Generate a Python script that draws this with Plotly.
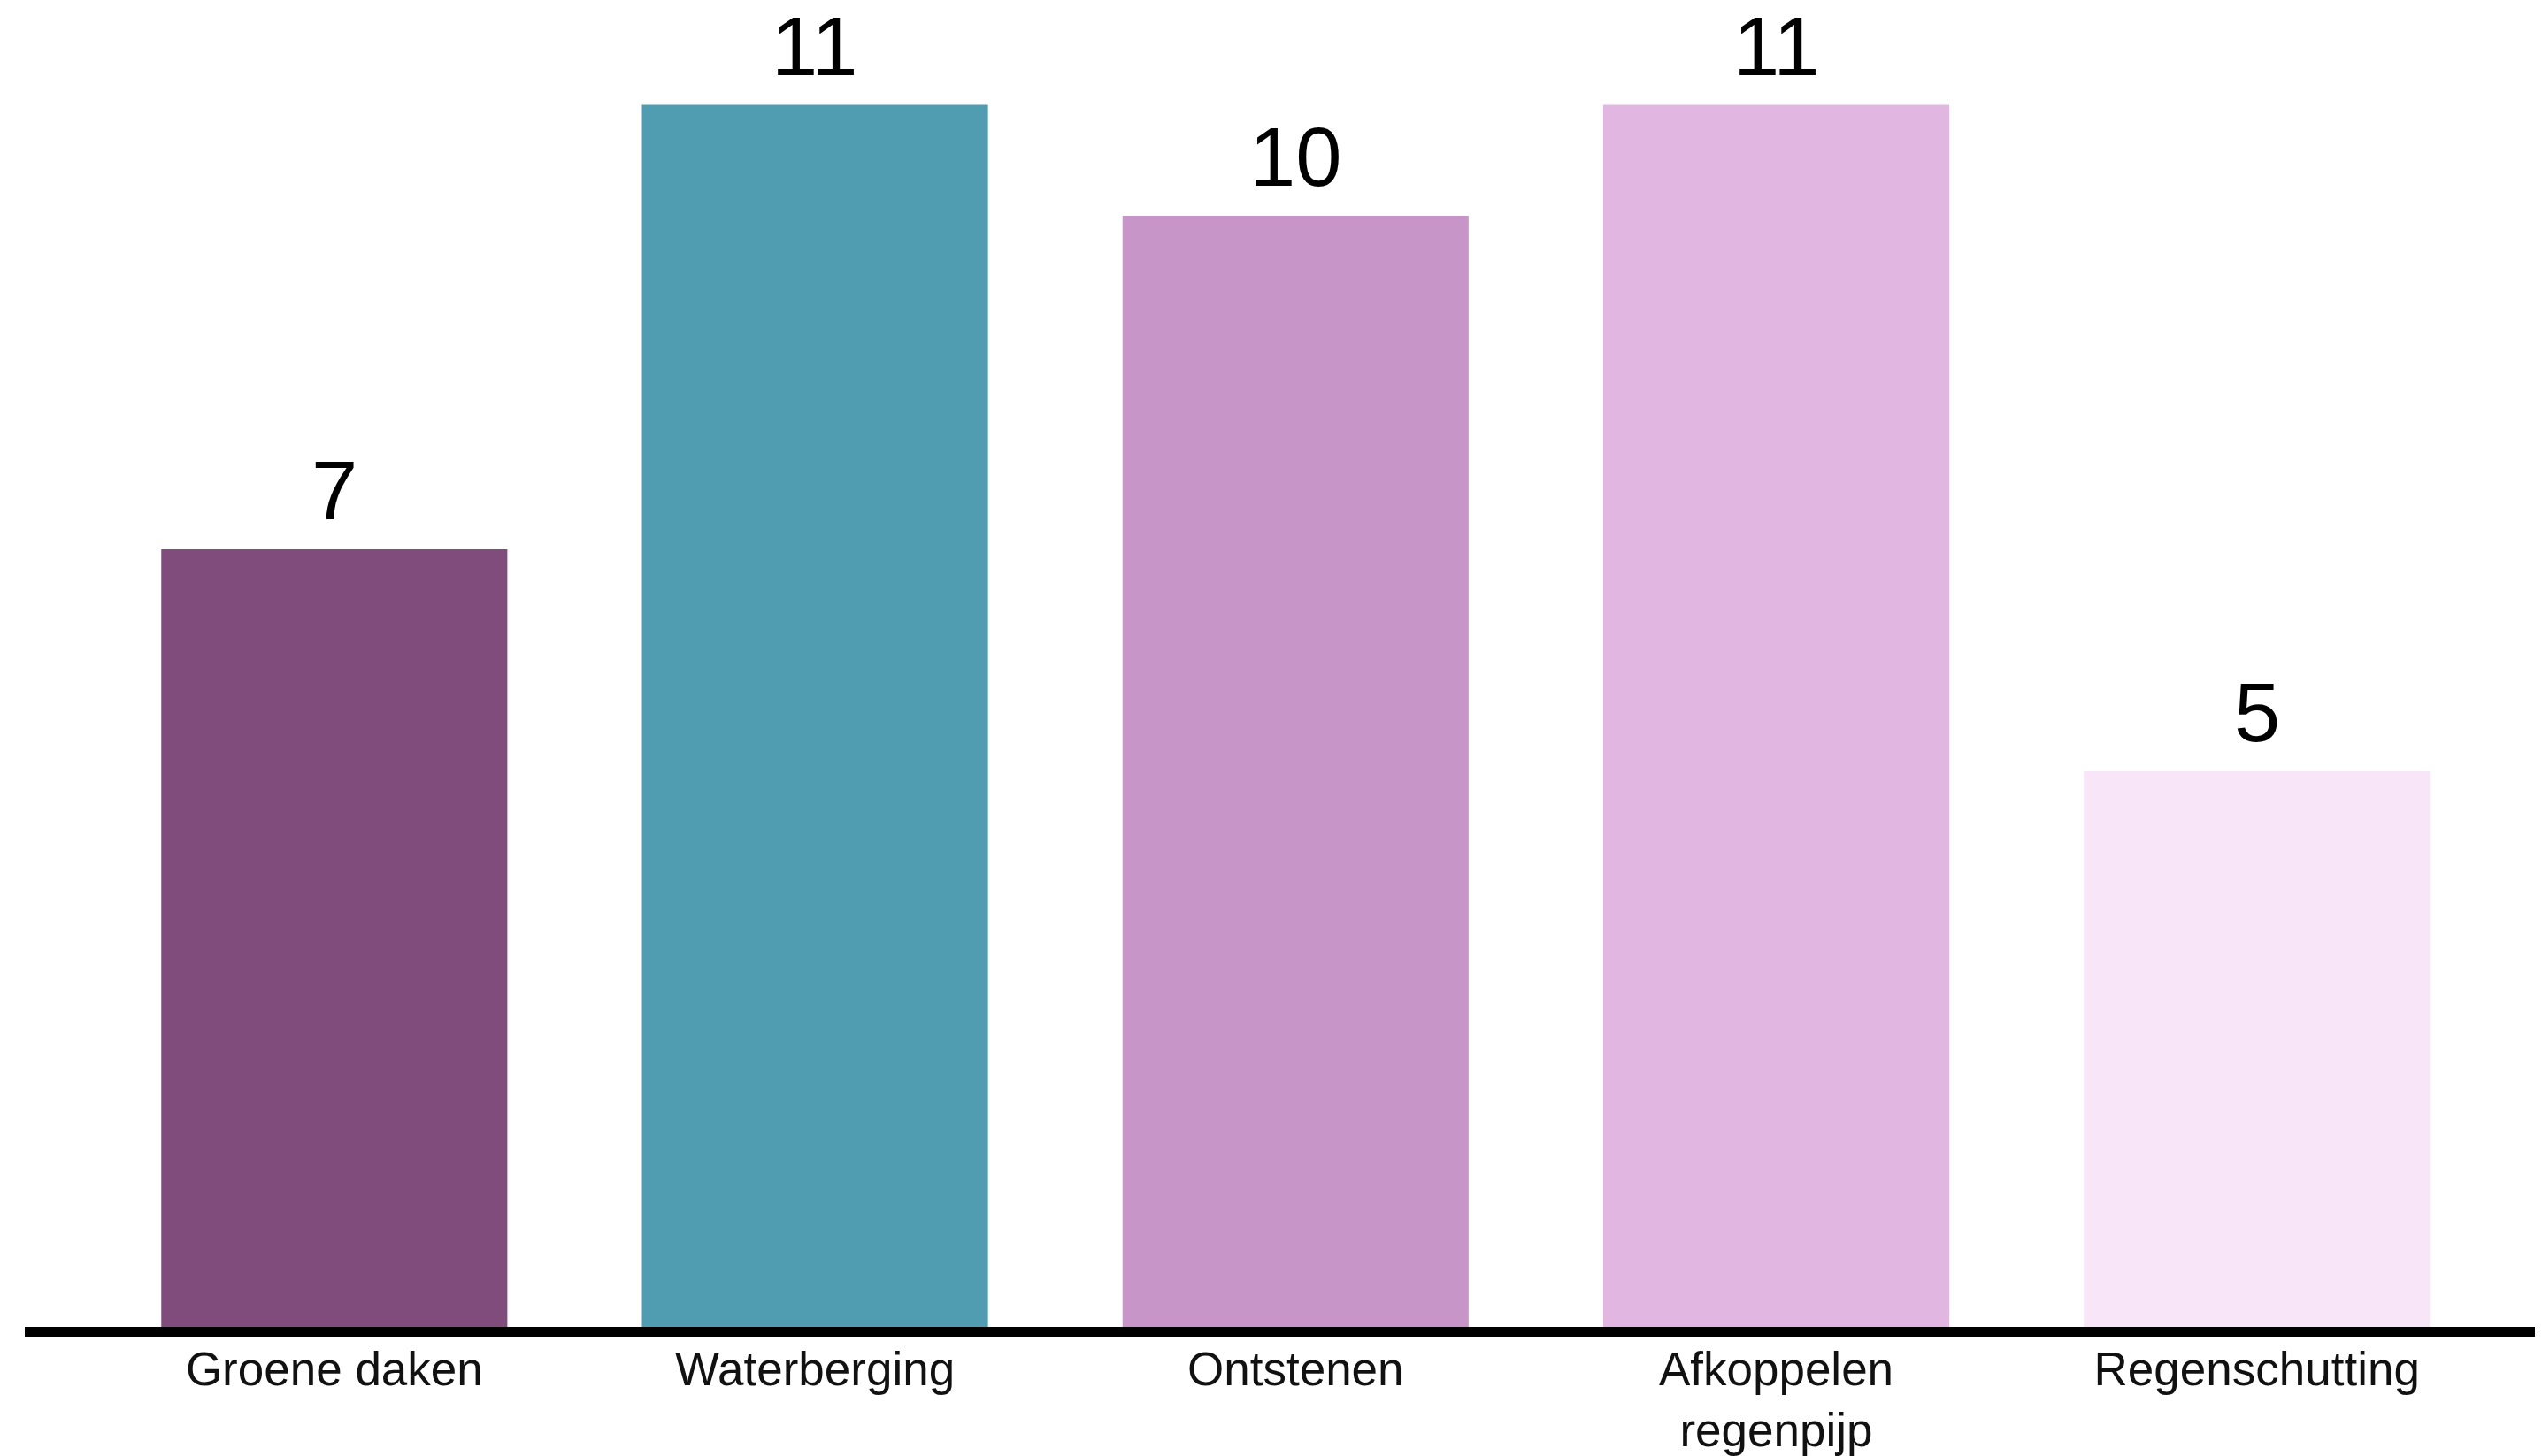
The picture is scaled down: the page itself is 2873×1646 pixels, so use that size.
import plotly.graph_objects as go

categories = ["Groene daken", "Waterberging", "Ontstenen", "Afkoppelen<br>regenpijp", "Regenschutting"]
values = [7, 11, 10, 11, 5]
colors = ["#7F4C7B", "#509DB2", "#C795C8", "#E1B7E1", "#F8E6F8"]

FONT = "Liberation Sans, Arial, sans-serif"

fig = go.Figure()
fig.add_trace(go.Bar(
    x=categories,
    y=values,
    marker=dict(color=colors, line=dict(width=0)),
    width=0.72,
    hoverinfo="skip",
))

annotations = []
for c, v in zip(categories, values):
    annotations.append(dict(
        x=c, y=v, xref="x", yref="y",
        text=str(v), showarrow=False,
        yanchor="bottom", yshift=12,
        font=dict(family=FONT, size=94, color="#000000"),
    ))

fig.update_layout(
    width=2873, height=1646,
    margin=dict(l=20, r=0, t=0, b=154),
    paper_bgcolor="white", plot_bgcolor="white",
    showlegend=False,
    annotations=annotations,
    xaxis=dict(
        range=[-0.644, 4.608],
        showline=True, linecolor="#000000", linewidth=11,
        showgrid=False, zeroline=False, ticks="",
        ticklabelstandoff=-9,
        tickfont=dict(family=FONT, size=53, color="#111111"),
        fixedrange=True,
    ),
    yaxis=dict(
        range=[0, 11.88],
        showgrid=False, zeroline=False, showline=False,
        showticklabels=False, ticks="",
        fixedrange=True,
    ),
)

fig.write_html("out.html")
